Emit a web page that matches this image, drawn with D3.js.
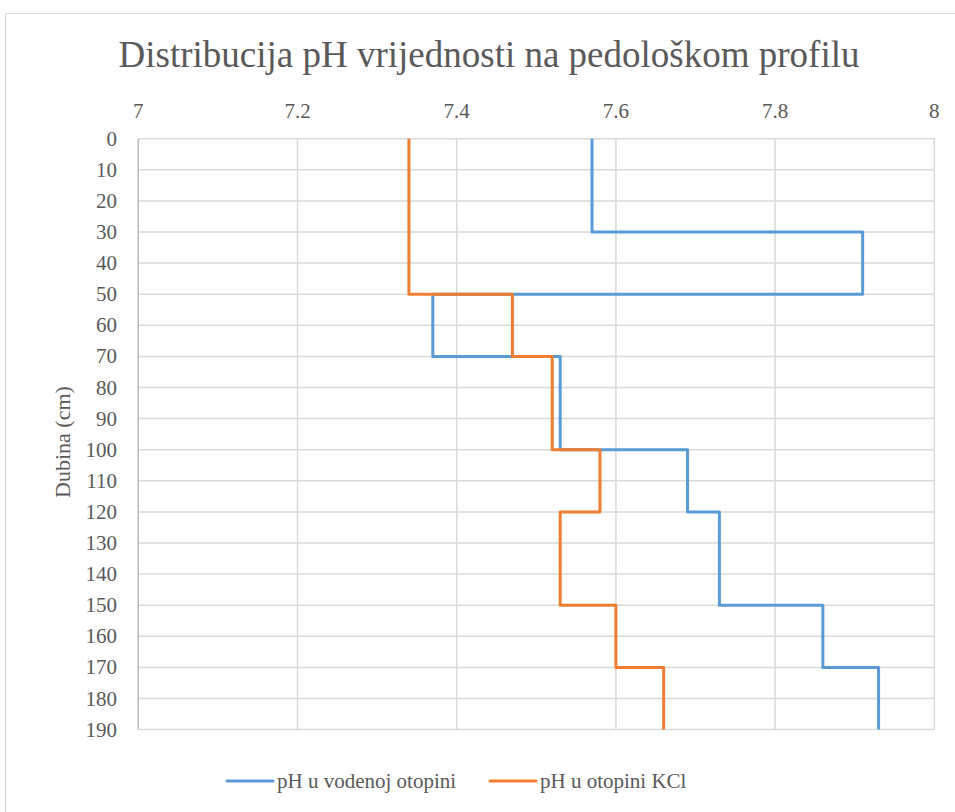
<!DOCTYPE html>
<html><head><meta charset="utf-8">
<script src="https://cdn.jsdelivr.net/npm/d3@7"></script>
<style>body{margin:0;background:#fff}svg{display:block}text{font-family:"Liberation Serif","Times New Roman",serif;fill:#595959}</style>
</head><body>
<script>
const depthTops = [0, 30, 50, 70, 100, 120, 150, 170];
const depthBottoms = [30, 50, 70, 100, 120, 150, 170, 190];
const phWater = [7.57, 7.91, 7.37, 7.53, 7.69, 7.73, 7.86, 7.93];
const phKCl = [7.34, 7.34, 7.47, 7.52, 7.58, 7.53, 7.60, 7.66];
const xTicks = [7, 7.2, 7.4, 7.6, 7.8, 8];
const yTicks = [0,10,20,30,40,50,60,70,80,90,100,110,120,130,140,150,160,170,180,190];
const seriesNames = ["pH u vodenoj otopini", "pH u otopini KCl"];
const colors = ["#5b9bd5", "#ed7d31"];

const W = 955, H = 812;
const svg = d3.select("body").append("svg").attr("width", W).attr("height", H);
svg.append("rect").attr("x",5.5).attr("y",13.5).attr("width",1000).attr("height",1000)
  .attr("fill","#fff").attr("stroke","#d9d9d9");

const x = d3.scaleLinear().domain([7, 8]).range([138.3, 934.3]);
const y = d3.scaleLinear().domain([0, 190]).range([138.7, 729.6]);

// gridlines
svg.append("g").selectAll("line").data(xTicks).join("line")
  .attr("x1", d => x(d)).attr("x2", d => x(d)).attr("y1", y(0)).attr("y2", y(190))
  .attr("stroke", "#d9d9d9").attr("stroke-width", 1.5);
svg.append("g").selectAll("line").data(yTicks).join("line")
  .attr("x1", x(7)).attr("x2", x(8)).attr("y1", d => y(d)).attr("y2", d => y(d))
  .attr("stroke", "#d9d9d9").attr("stroke-width", 1.5);
// left axis line
svg.append("line").attr("x1", x(7)).attr("x2", x(7)).attr("y1", y(0)).attr("y2", y(190))
  .attr("stroke", "#bfbfbf").attr("stroke-width", 1.5);

// x tick labels (top)
svg.append("g").selectAll("text").data(xTicks).join("text")
  .attr("x", d => x(d)).attr("y", 118).attr("text-anchor", "middle")
  .attr("font-size", 21).text(d => d3.format("")(d));
// y tick labels
svg.append("g").selectAll("text").data(yTicks).join("text")
  .attr("x", 117).attr("y", d => y(d) + 7).attr("text-anchor", "end")
  .attr("font-size", 21).text(d => d);

// series as vertical step profiles
function profile(vals) {
  const pts = [];
  vals.forEach((v, i) => { pts.push([v, depthTops[i]]); pts.push([v, depthBottoms[i]]); });
  return pts;
}
const line = d3.line().x(d => x(d[0])).y(d => y(d[1]));
[phWater, phKCl].forEach((vals, i) => {
  svg.append("path").attr("d", line(profile(vals))).attr("fill", "none")
    .attr("stroke", colors[i]).attr("stroke-width", 3).attr("stroke-linejoin", "round");
});

// title
svg.append("text").attr("x", 489).attr("y", 67).attr("text-anchor", "middle")
  .attr("font-size", 37).text("Distribucija pH vrijednosti na pedološkom profilu");

// y axis title
svg.append("text").attr("transform", "translate(70,442) rotate(-90)")
  .attr("text-anchor", "middle").attr("font-size", 22).text("Dubina (cm)");

// legend
const legX = [227, 490];
const lg = svg.append("g").selectAll("g").data(seriesNames).join("g")
  .attr("transform", (d, i) => `translate(${legX[i]},781)`);
lg.append("line").attr("x1", 0).attr("x2", 46).attr("y1", 0).attr("y2", 0)
  .attr("stroke", (d, i) => colors[i]).attr("stroke-width", 3).attr("stroke-linecap", "round");
lg.append("text").attr("x", 50).attr("y", 7).attr("font-size", 21).text(d => d);
</script>
</body></html>
